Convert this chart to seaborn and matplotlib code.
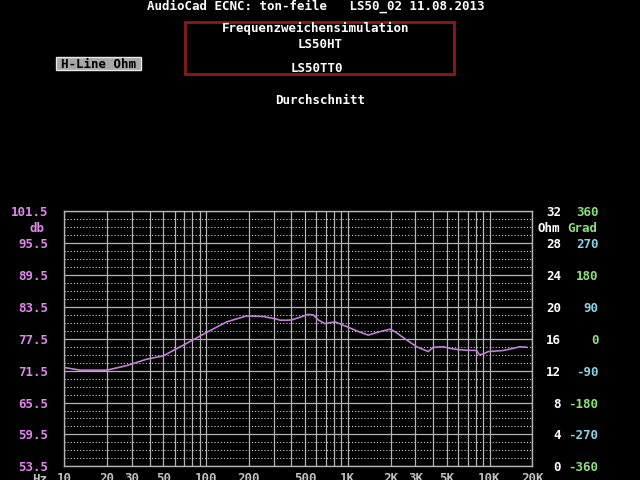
import matplotlib
matplotlib.use("Agg")
import matplotlib.pyplot as plt
import numpy as np
import pandas as pd
import seaborn as sns
from matplotlib.patches import Rectangle
from matplotlib.ticker import FixedLocator, NullFormatter

# ---------------- data ----------------
freq_hz = [10, 12.9, 20, 27.5, 38, 50, 58.7, 81, 101, 140, 193, 253, 315, 332,
           370, 401, 459, 526, 570, 618, 690, 811, 981, 1153, 1393, 1684, 1982,
           2148, 2529, 3056, 3690, 4000, 4710, 5250, 5850, 6880, 8090, 8450,
           9020, 9780, 12470, 14660, 16350, 18240]
level_db = [72.1, 71.6, 71.6, 72.45, 73.65, 74.3, 75.3, 77.3, 78.7, 80.7, 81.8,
            81.7, 81.2, 81.0, 81.0, 81.05, 81.55, 82.1, 82.0, 81.05, 80.35, 80.7,
            79.8, 79.0, 78.2, 78.85, 79.3, 78.85, 77.5, 76.0, 75.1, 75.9, 76.0,
            75.7, 75.5, 75.35, 75.3, 74.5, 74.65, 75.1, 75.3, 75.7, 76.0, 75.9]

x_ticks = [10, 20, 30, 50, 100, 200, 500, 1000, 2000, 3000, 5000, 10000, 20000]
x_labels = ["10", "20", "30", "50", "100", "200", "500", "1K", "2K", "3K", "5K", "10K", "20K"]
db_ticks = [53.5, 59.5, 65.5, 71.5, 77.5, 83.5, 89.5, 95.5, 101.5]
ohm_ticks = [0, 4, 8, 12, 16, 20, 24, 28, 32]
grad_ticks = [-360, -270, -180, -90, 0, 90, 180, 270, 360]

title_top = "AudioCad ECNC: ton-feile   LS50_02 11.08.2013"
box_lines = ["Frequenzweichensimulation", "LS50HT", "LS50TT0"]
subtitle = "Durchschnitt"

df = pd.DataFrame({"freq": freq_hz, "db": level_db})

# ---------------- style ----------------
sns.set_theme(style="dark")
plt.rcParams["font.family"] = ["DejaVu Sans Mono"]
plt.rcParams["font.weight"] = "bold"
plt.rcParams["axes.facecolor"] = "black"
plt.rcParams["figure.facecolor"] = "black"

W, H = 640, 480
def fx(px): return px / W
def fy(py): return 1 - py / H

GRID = "#b4b4b4"
MAG = "#e088ec"
CURVE = "#c083d4"
GREEN = "#8ede7e"
CYAN = "#8ed2e6"
FS = 9

fig = plt.figure(figsize=(6.4, 4.8), dpi=100)
L, R, T, B = 64.3, 532.3, 211.3, 466.3
ax = fig.add_axes([fx(L), fy(B), fx(R) - fx(L), fy(T) - fy(B)])
ax.set_facecolor("black")

sns.lineplot(data=df, x="freq", y="db", ax=ax, color=CURVE, linewidth=1.2, zorder=5)
ax.set_xscale("log")
ax.set_xlim(10, 20000)
ax.set_ylim(53.5, 101.5)
ax.set_xlabel("")
ax.set_ylabel("")

# x ticks / grid
ax.xaxis.set_major_locator(FixedLocator(x_ticks))
ax.set_xticklabels(x_labels)
minor_x = [m * 10 ** d for d in range(1, 5) for m in range(1, 10) if 10 <= m * 10 ** d <= 20000]
ax.xaxis.set_minor_locator(FixedLocator(minor_x))
ax.xaxis.set_minor_formatter(NullFormatter())
ax.xaxis.grid(True, which="both", color=GRID, linewidth=0.9, linestyle="-")
ax.tick_params(axis="x", which="both", length=0, pad=4.0, labelsize=FS, labelcolor="#c0c0c0")

# y ticks / grid
ax.yaxis.set_major_locator(FixedLocator(db_ticks))
ax.set_yticklabels([f"{v:.1f}" for v in db_ticks])
ax.yaxis.set_minor_locator(FixedLocator(list(np.arange(53.5, 101.6, 1.5))))
ax.yaxis.set_minor_formatter(NullFormatter())
ax.yaxis.grid(True, which="major", color=GRID, linewidth=0.9, linestyle="-")
ax.yaxis.grid(True, which="minor", color="#dcdcdc", linewidth=0.75, linestyle=(0, (1, 2)))
ax.tick_params(axis="y", which="both", length=0, pad=11.5, labelsize=FS, labelcolor=MAG)
for s in ax.spines.values():
    s.set_color(GRID)
    s.set_linewidth(1.0)
ax.set_axisbelow(True)

# right Ohm axis
ax2 = ax.twinx()
ax2.set_ylim(0, 32)
ax2.yaxis.set_major_locator(FixedLocator(ohm_ticks))
ax2.set_yticklabels([str(v) for v in ohm_ticks], ha="right")
ax2.tick_params(axis="y", length=0, pad=20.7, labelsize=FS, labelcolor="white")
ax2.grid(False)
for s in ax2.spines.values():
    s.set_visible(False)

# right Grad axis
ax3 = ax.twinx()
ax3.set_ylim(-360, 360)
ax3.yaxis.set_major_locator(FixedLocator(grad_ticks))
ax3.set_yticklabels([str(v) for v in grad_ticks], ha="right")
ax3.tick_params(axis="y", length=0, pad=47.5, labelsize=FS)
for i, t in enumerate(ax3.yaxis.get_major_ticks()):
    t.label2.set_color(GREEN if i % 2 == 0 else CYAN)
ax3.grid(False)
for s in ax3.spines.values():
    s.set_visible(False)

# axis unit labels
fig.text(fx(36.5), fy(231.5), "db", color=MAG, fontsize=FS, ha="center", va="baseline")
fig.text(fx(549), fy(231.5), "Ohm", color="white", fontsize=FS, ha="center", va="baseline")
fig.text(fx(582.5), fy(231.5), "Grad", color=GREEN, fontsize=FS, ha="center", va="baseline")
fig.text(fx(40), fy(483), "Hz", color="#c0c0c0", fontsize=FS, ha="center", va="baseline")

# header texts
fig.text(fx(316), fy(9.2), title_top, color="white", fontsize=FS, ha="center", va="baseline")
fig.patches.append(Rectangle((fx(185), fy(74)), fx(454) - fx(185), fy(21.5) - fy(74),
                             transform=fig.transFigure, fill=False,
                             edgecolor="#8a1a1a", linewidth=2.0))
fig.text(fx(316), fy(32), box_lines[0], color="white", fontsize=FS, ha="center", va="baseline")
fig.text(fx(320), fy(48), box_lines[1], color="white", fontsize=FS, ha="center", va="baseline")
fig.text(fx(316.5), fy(71.5), box_lines[2], color="white", fontsize=FS, ha="center", va="baseline")
fig.text(fx(320.5), fy(104), subtitle, color="white", fontsize=FS, ha="center", va="baseline")

# H-Line Ohm button
fig.patches.append(Rectangle((fx(56), fy(70)), fx(141) - fx(56), fy(57) - fy(70),
                             transform=fig.transFigure, facecolor="#a8a8a8",
                             edgecolor="#e8e8e8", linewidth=1.0))
fig.text(fx(98.5), fy(67.5), "H-Line Ohm", color="black", fontsize=FS, ha="center", va="baseline")

fig.savefig("out.png", dpi=100, facecolor="black")
